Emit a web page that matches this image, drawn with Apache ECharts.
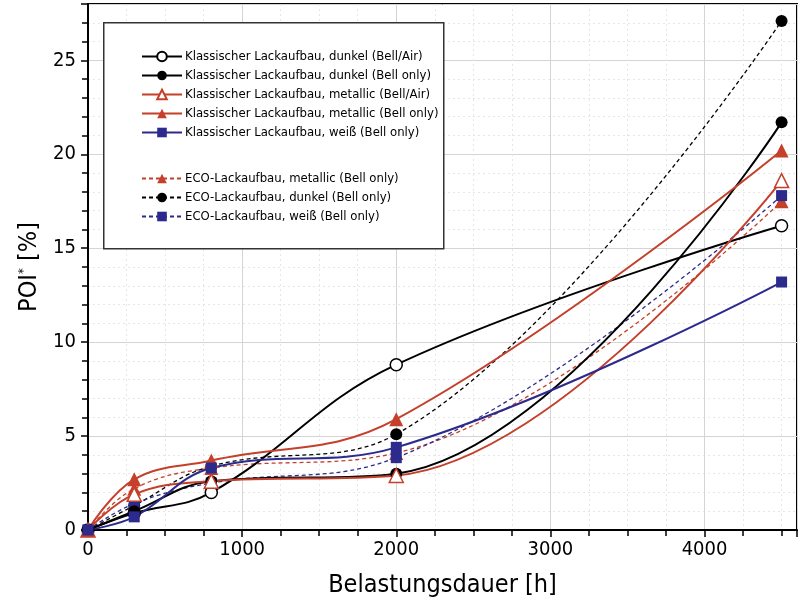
<!DOCTYPE html>
<html><head><meta charset="utf-8">
<script src="https://cdn.jsdelivr.net/npm/echarts@6/dist/echarts.min.js"></script>
<style>html,body{margin:0;padding:0;background:#fff}#c{width:800px;height:616px}</style>
</head><body><div id="c"></div>
<script>
const hours = [0, 300, 800, 2000, 4500];
const klDunkelBellAir   = [0, 0.9, 2.0, 8.8, 16.2];
const klDunkelBellOnly  = [0, 1.0, 2.6, 3.0, 21.7];
const klMetBellAir      = [0, 1.9, 2.6, 2.9, 18.6];
const klMetBellOnly     = [0, 2.7, 3.7, 5.9, 20.2];
const klWeissBellOnly   = [0, 0.7, 3.3, 4.4, 13.2];
const ecoMetBellOnly    = [0, 2.2, 3.3, 4.1, 17.5];
const ecoDunkelBellOnly = [0, 1.3, 3.4, 5.1, 27.1];
const ecoWeissBellOnly  = [0, 1.4, 2.5, 3.85, 17.8];
const names = [
  'Klassischer Lackaufbau, dunkel (Bell/Air)',
  'Klassischer Lackaufbau, dunkel (Bell only)',
  'Klassischer Lackaufbau, metallic (Bell/Air)',
  'Klassischer Lackaufbau, metallic (Bell only)',
  'Klassischer Lackaufbau, weiß (Bell only)',
  'ECO-Lackaufbau, metallic (Bell only)',
  'ECO-Lackaufbau, dunkel (Bell only)',
  'ECO-Lackaufbau, weiß (Bell only)'
];
const RED = '#c4402b', BLUE = '#2c2a8c', BLACK = '#000';
const FONT = '"Liberation Sans Narrow", "DejaVu Sans Condensed", "Liberation Sans", Arial, sans-serif';

function pts(vals){ return hours.map((h,i)=>[h, vals[i]]); }
function ser(name, vals, color, symbol, filled, dashed, size){
  return {
    name, type:'line', data: pts(vals), smooth: 0.4,
    symbol, symbolSize: size,
    showAllSymbol: true,
    lineStyle:{color, width: dashed?1.3:2, type: dashed?[4,3]:'solid'},
    itemStyle:{color: filled?color:'#fff', borderColor: color, borderWidth: filled?0:1.5},
    z: dashed?2:3
  };
}
const series = [
  ser(names[0], klDunkelBellAir, BLACK, 'circle', false, false, 12),
  ser(names[1], klDunkelBellOnly, BLACK, 'circle', true, false, 12),
  ser(names[2], klMetBellAir, RED, 'triangle', false, false, 14),
  ser(names[3], klMetBellOnly, RED, 'triangle', true, false, 14),
  ser(names[4], klWeissBellOnly, BLUE, 'rect', true, false, 11),
  ser(names[5], ecoMetBellOnly, RED, 'triangle', true, true, 14),
  ser(names[6], ecoDunkelBellOnly, BLACK, 'circle', true, true, 12),
  ser(names[7], ecoWeissBellOnly, BLUE, 'rect', true, true, 11)
];
const chart = echarts.init(document.getElementById('c'), null, {renderer:'canvas'});
const legendCommon = {
  orient:'vertical', left: 136, itemWidth: 40, itemHeight: 12, itemGap: 6, z: 20,
  textStyle:{fontFamily: FONT, fontSize: 13, color:'#000', padding:[0,0,0,-2]},
  selectedMode:false
};
chart.setOption({
  animation:false,
  backgroundColor:'#fff',
  textStyle:{fontFamily: FONT},
  grid:{left:88, right:3, top:4, bottom:86, show:true, borderColor:'#000', borderWidth:2, backgroundColor:'transparent'},
  legend:[
    Object.assign({}, legendCommon, {top: 45, data: names.slice(0,5)}),
    Object.assign({}, legendCommon, {top: 167, data: names.slice(5)})
  ],
  graphic:[{type:'rect', left:103, top:22, z:10, shape:{width:340, height:226}, style:{fill:'#fff', stroke:'#333', lineWidth:1.5}}],
  xAxis:{
    type:'value', min:0, max:4600, interval:1000,
    name:'Belastungsdauer [h]', nameLocation:'middle', nameGap:43,
    nameTextStyle:{fontFamily: FONT, fontSize:25, color:'#000'},
    axisLine:{onZero:false, lineStyle:{color:'#000', width:2}},
    axisTick:{show:true, inside:false, length:7, lineStyle:{color:'#000', width:1.5}},
    minorTick:{show:true, splitNumber:4, length:6, lineStyle:{color:'#000', width:1.5}},
    axisLabel:{fontFamily: FONT, fontSize:20, color:'#000', margin:10,
      formatter: v => v > 4500 ? '' : String(v)},
    splitLine:{show:true, lineStyle:{color:'#d4d4d4', width:1}},
    minorSplitLine:{show:true, lineStyle:{color:'#e6e6e6', width:1, type:[2,3]}}
  },
  yAxis:{
    type:'value', min:0, max:28, interval:5,
    name:'POI{sup|*} [%]', nameLocation:'middle', nameGap:44,
    nameTextStyle:{fontFamily: FONT, fontSize:25, color:'#000',
      rich:{sup:{fontFamily: FONT, fontSize:13, color:'#000', verticalAlign:'top', padding:[0,0,10,0]}}},
    axisLine:{onZero:false, lineStyle:{color:'#000', width:2}},
    axisTick:{show:true, inside:false, length:7, lineStyle:{color:'#000', width:1.5}},
    minorTick:{show:true, splitNumber:5, length:6, lineStyle:{color:'#000', width:1.5}},
    axisLabel:{fontFamily: FONT, fontSize:20, color:'#000', margin:12,
      formatter: v => v > 25 ? '' : String(v)},
    splitLine:{show:true, lineStyle:{color:'#d4d4d4', width:1}},
    minorSplitLine:{show:true, lineStyle:{color:'#e6e6e6', width:1, type:[2,3]}}
  },
  series
});
</script></body></html>
